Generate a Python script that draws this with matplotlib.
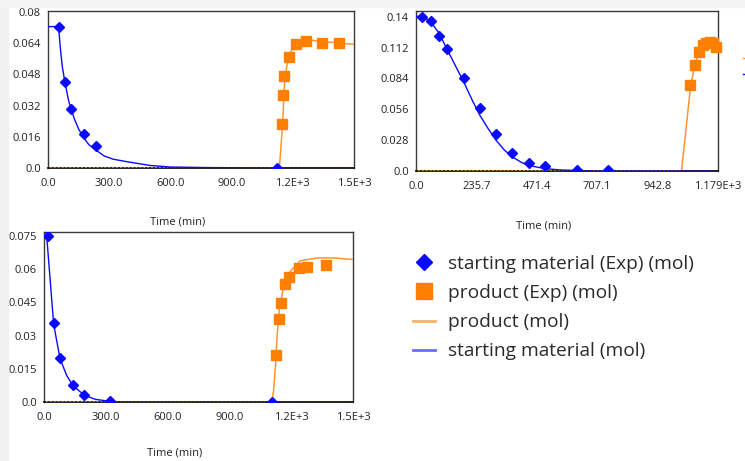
import matplotlib
matplotlib.use("Agg")
import matplotlib.pyplot as plt
from matplotlib.lines import Line2D
from matplotlib.patches import Rectangle

plt.rcParams['font.family'] = ['Open Sans', 'DejaVu Sans']

# ---------------- data ----------------
# Panel 1
p1_sm_exp_t = [52, 83, 113, 175, 235, 1124]
p1_sm_exp_v = [0.0725, 0.044, 0.0304, 0.0173, 0.0113, 0.0]
p1_pr_exp_t = [1145, 1152, 1158, 1181, 1214, 1265, 1341, 1425]
p1_pr_exp_v = [0.0226, 0.0374, 0.0472, 0.0569, 0.0636, 0.0651, 0.0643, 0.0643]
p1_sm_mod_t = [0, 45, 52, 60, 70, 83, 100, 113, 130, 150, 175, 200, 235, 275, 320, 400, 500, 600, 800, 1000, 1124, 1500]
p1_sm_mod_v = [0.0725, 0.0725, 0.0722, 0.062, 0.052, 0.044, 0.035, 0.030, 0.025, 0.020, 0.0155, 0.012,
               0.0092, 0.0062, 0.0045, 0.0030, 0.0013, 0.0005, 0.0002, 0.0001, 0.0, 0.0]
p1_pr_mod_t = [0, 1134, 1140, 1150, 1161, 1172, 1185, 1200, 1213, 1240, 1265, 1340, 1422, 1500]
p1_pr_mod_v = [0, 0, 0.008, 0.0226, 0.046, 0.053, 0.058, 0.062, 0.064, 0.0655, 0.066, 0.0648, 0.0642, 0.0634]

# Panel 2
p2_sm_exp_t = [25, 57, 90, 122, 188, 248, 312, 375, 440, 502, 629, 750]
p2_sm_exp_v = [0.140, 0.136, 0.1227, 0.111, 0.084, 0.0573, 0.0334, 0.0164, 0.0076, 0.0043, 0.0008, 0.0005]
p2_pr_exp_t = [1071, 1088, 1103, 1120, 1133, 1149, 1159, 1170]
p2_pr_exp_v = [0.0779, 0.0961, 0.1082, 0.1143, 0.1164, 0.1167, 0.1158, 0.1127]
p2_sm_mod_t = [0, 25, 57, 90, 122, 155, 188, 220, 248, 280, 312, 345, 375, 410, 440, 502, 560, 629, 700, 1178.5]
p2_sm_mod_v = [0.1405, 0.140, 0.1355, 0.125, 0.110, 0.095, 0.080, 0.064, 0.051, 0.039, 0.028, 0.019,
               0.013, 0.008, 0.005, 0.0022, 0.001, 0.0004, 0.0, 0.0]
p2_pr_mod_t = [0, 1036, 1050, 1071, 1088, 1103, 1120, 1140, 1160, 1178.5]
p2_pr_mod_v = [0, 0, 0.03, 0.076, 0.096, 0.108, 0.113, 0.116, 0.116, 0.115]

# Panel 3
p3_sm_exp_t = [19, 47, 78, 140, 196, 318, 1106]
p3_sm_exp_v = [0.075, 0.0356, 0.020, 0.0075, 0.0032, 0.0006, 0.0]
p3_pr_exp_t = [1125, 1142, 1150, 1171, 1190, 1239, 1276, 1370]
p3_pr_exp_v = [0.0210, 0.0376, 0.0448, 0.0534, 0.0562, 0.0604, 0.0610, 0.0616]
p3_sm_mod_t = [0, 12, 47, 78, 110, 140, 196, 250, 318, 360, 1500]
p3_sm_mod_v = [0.0775, 0.0762, 0.035, 0.0195, 0.012, 0.0075, 0.0030, 0.0012, 0.0003, 0.0, 0.0]
p3_pr_mod_t = [0, 1106, 1114, 1124, 1132, 1143, 1162, 1195, 1244, 1325, 1406, 1500]
p3_pr_mod_v = [0, 0, 0.0048, 0.0168, 0.0304, 0.0424, 0.0514, 0.0589, 0.0637, 0.065, 0.065, 0.0643]

# ticks
x_ticks_a = [0, 300, 600, 900, 1200, 1500]
x_labels_a = ['0.0', '300.0', '600.0', '900.0', '1.2E+3', '1.5E+3']
x_ticks_b = [0, 235.7, 471.4, 707.1, 942.8, 1178.5]
x_labels_b = ['0.0', '235.7', '471.4', '707.1', '942.8', '1.179E+3']
y_ticks_1 = [0, 0.016, 0.032, 0.048, 0.064, 0.08]
y_labels_1 = ['0.0', '0.016', '0.032', '0.048', '0.064', '0.08']
y_ticks_2 = [0, 0.028, 0.056, 0.084, 0.112, 0.14]
y_labels_2 = ['0.0', '0.028', '0.056', '0.084', '0.112', '0.14']
y_ticks_3 = [0, 0.015, 0.03, 0.045, 0.06, 0.075]
y_labels_3 = ['0.0', '0.015', '0.03', '0.045', '0.06', '0.075']

legend_labels = ['starting material (Exp) (mol)', 'product (Exp) (mol)',
                 'product (mol)', 'starting material (mol)']

BLUE = '#0a0aff'
ORANGE = '#ff8000'
ORANGE_LINE = '#ff9430'

W, H = 745, 461
fig = plt.figure(figsize=(W / 100, H / 100), dpi=100)
fig.patch.set_facecolor('white')
# light grey window strips
fig.patches.append(Rectangle((0, 0), 8 / W, 1, transform=fig.transFigure, color='#f0f0f0', zorder=0))
fig.patches.append(Rectangle((0, 1 - 7 / H), 1, 7 / H, transform=fig.transFigure, color='#f3f3f3', zorder=0))


def px_axes(l, t, r, b):
    return fig.add_axes([l / W, 1 - b / H, (r - l) / W, (b - t) / H])


def draw(ax, sm_t, sm_v, pr_t, pr_v, smm_t, smm_v, prm_t, prm_v, xt, xl, xmax, yt, yl, ymax, label_y):
    ax.plot(prm_t, prm_v, color=ORANGE_LINE, lw=1.1, zorder=3)
    ax.plot(smm_t, smm_v, color=BLUE, lw=1.0, zorder=3)
    ax.axhline(0, color='#2a2010', lw=1.4, ls=(0, (1, 1)), zorder=4)
    ax.plot(pr_t, pr_v, 's', color=ORANGE, ms=7, mec=ORANGE, zorder=5, clip_on=False)
    ax.plot(sm_t, sm_v, 'D', color=BLUE, ms=5.2, mec=BLUE, zorder=6)
    ax.set_xlim(0, xmax)
    ax.set_ylim(0, ymax)
    ax.set_xticks(xt)
    ax.set_xticklabels(xl)
    ax.set_yticks(yt)
    ax.set_yticklabels(yl)
    ax.tick_params(length=0, labelsize=8, colors='#222222', pad=5)
    ax.tick_params(axis='x', pad=7)
    for s in ax.spines.values():
        s.set_color('#3a3a3a')
        s.set_linewidth(1.0)
    ax.spines['bottom'].set_color('#111111')
    ax.spines['bottom'].set_linewidth(1.3)
    ax.text(0.424, label_y, 'Time (min)', transform=ax.transAxes, ha='center', va='center',
            fontsize=8, color='#222222')


ax1 = px_axes(48, 11, 354, 168)
draw(ax1, p1_sm_exp_t, p1_sm_exp_v, p1_pr_exp_t, p1_pr_exp_v, p1_sm_mod_t, p1_sm_mod_v,
     p1_pr_mod_t, p1_pr_mod_v, x_ticks_a, x_labels_a, 1500, y_ticks_1, y_labels_1, 0.0805, -0.344)

ax2 = px_axes(416, 11, 718, 171)
draw(ax2, p2_sm_exp_t, p2_sm_exp_v, p2_pr_exp_t, p2_pr_exp_v, p2_sm_mod_t, p2_sm_mod_v,
     p2_pr_mod_t, p2_pr_mod_v, x_ticks_b, x_labels_b, 1178.5, y_ticks_2, y_labels_2, 0.1452, -0.346)

ax3 = px_axes(44, 232, 353, 402)
draw(ax3, p3_sm_exp_t, p3_sm_exp_v, p3_pr_exp_t, p3_pr_exp_v, p3_sm_mod_t, p3_sm_mod_v,
     p3_pr_mod_t, p3_pr_mod_v, x_ticks_a, x_labels_a, 1500, y_ticks_3, y_labels_3, 0.0767, -0.30)

# cut-off legend marks at right edge of figure
fig.add_artist(Line2D([743 / W, 746 / W], [1 - 58 / H, 1 - 58 / H], color=ORANGE_LINE, lw=1, transform=fig.transFigure))
fig.add_artist(Line2D([743 / W, 746 / W], [1 - 74 / H, 1 - 74 / H], color=BLUE, lw=1, transform=fig.transFigure))

handles = [
    Line2D([], [], marker='D', ls='none', color=BLUE, ms=8),
    Line2D([], [], marker='s', ls='none', color=ORANGE, ms=11),
    Line2D([], [], color='#f7b26e', lw=2),
    Line2D([], [], color='#6b6bff', lw=2),
]
fig.legend(handles, legend_labels, loc='upper left', bbox_to_anchor=(413 / W, 1 - 255 / H),
           frameon=False, fontsize=13.8, handlelength=1.15, handletextpad=0.68, labelspacing=0.58,
           borderpad=0, borderaxespad=0, labelcolor='#2a2a2a')

fig.savefig('out.png', dpi=100)
